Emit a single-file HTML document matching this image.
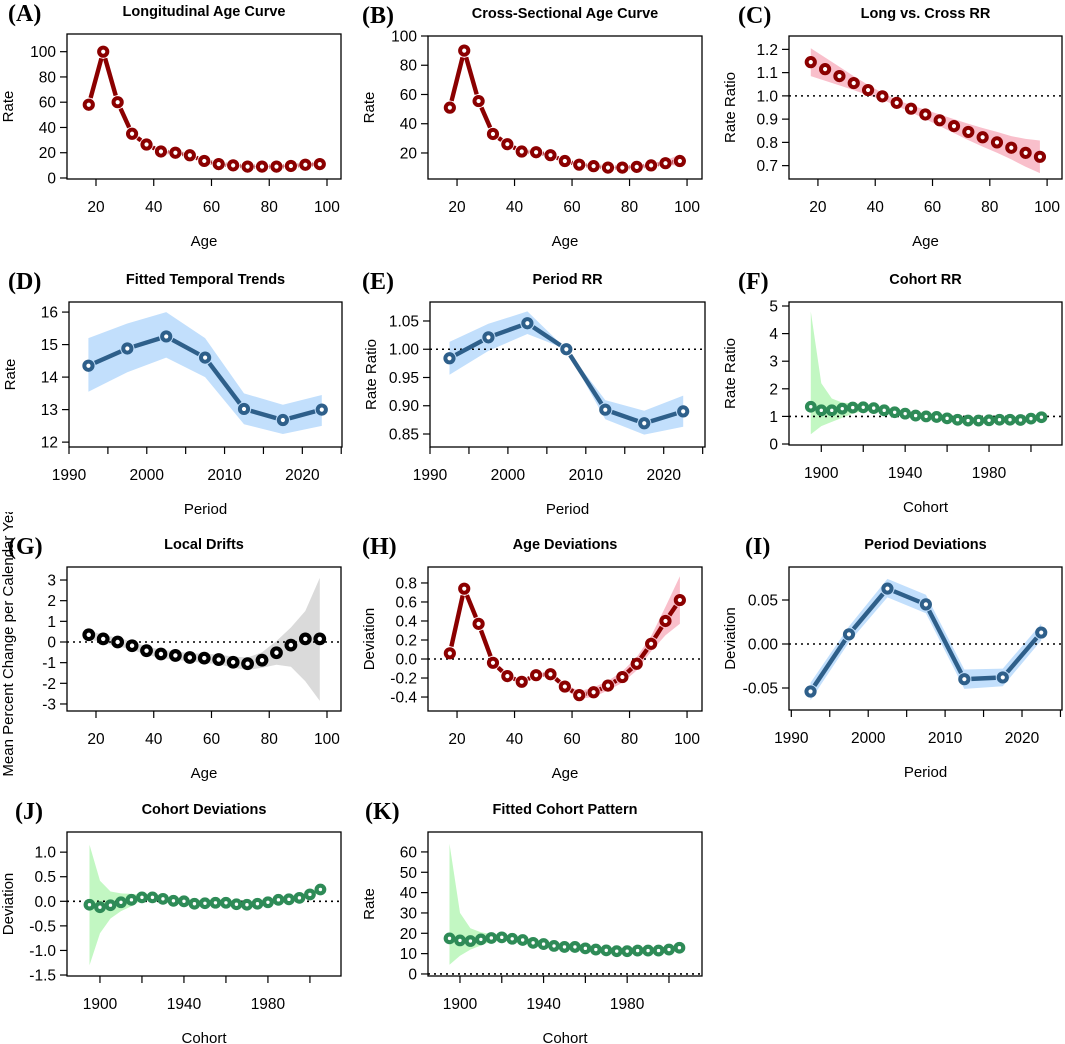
<!DOCTYPE html>
<html><head><meta charset="utf-8"><style>
html,body{margin:0;padding:0;background:#fff;}
svg{display:block;}
text{font-family:"Liberation Sans",sans-serif;fill:#000;}
</style></head><body>
<svg id="fig" width="1065" height="1044" viewBox="0 0 1065 1044" xmlns="http://www.w3.org/2000/svg">
<defs><clipPath id="gclip"><rect x="0" y="512" width="60" height="300"/></clipPath></defs>
</svg>
<script>
// ---- data ----
const ages = [17.5,22.5,27.5,32.5,37.5,42.5,47.5,52.5,57.5,62.5,67.5,72.5,77.5,82.5,87.5,92.5,97.5];
const periods = [1992.5,1997.5,2002.5,2007.5,2012.5,2017.5,2022.5];
const cohorts = [1895,1900,1905,1910,1915,1920,1925,1930,1935,1940,1945,1950,1955,1960,1965,1970,1975,1980,1985,1990,1995,2000,2005];

const longAge = [58,100,60,35,26.5,21,20,18,13.5,11,10,9,9,9,9.5,10.5,11];
const longAgeLo = [56,97,58,33.5,25.5,20.2,19.2,17.3,13,10.5,9.5,8.5,8.5,8.5,8.8,9.6,9.8];
const longAgeHi = [60,103,62,36.5,27.5,21.8,20.8,18.7,14,11.5,10.5,9.5,9.5,9.6,10.3,11.5,12.3];

const crossAge = [51,90,55.5,33,26,21,20.5,18.5,14.5,12,11,10,10,10.5,11.5,13,14.5];
const crossAgeLo = [49.5,87.5,54,32,25.2,20.3,19.8,17.8,14,11.5,10.5,9.5,9.5,9.8,10.6,11.6,11.5];
const crossAgeHi = [52.5,92.5,57,34,26.8,21.7,21.2,19.2,15,12.5,11.5,10.5,10.6,11.2,12.5,14.8,19];

const longCrossRR = [1.145,1.115,1.085,1.055,1.025,0.998,0.97,0.945,0.92,0.895,0.87,0.845,0.822,0.80,0.777,0.755,0.738];
const longCrossLo = [1.085,1.065,1.045,1.025,1.003,0.983,0.957,0.93,0.9,0.87,0.84,0.81,0.782,0.755,0.727,0.695,0.668];
const longCrossHi = [1.205,1.165,1.125,1.085,1.047,1.013,0.983,0.96,0.94,0.92,0.9,0.88,0.862,0.845,0.827,0.815,0.808];

const fittedTrend = [14.35,14.88,15.25,14.6,13.02,12.68,13.0];
const fittedTrendLo = [13.55,14.15,14.6,14.0,12.55,12.25,12.5];
const fittedTrendHi = [15.2,15.65,16.0,15.2,13.5,13.15,13.45];

const periodRR = [0.984,1.021,1.046,1.0,0.893,0.869,0.890];
const periodRRLo = [0.955,0.997,1.027,1.0,0.876,0.849,0.863];
const periodRRHi = [1.013,1.045,1.067,1.0,0.91,0.891,0.918];

const cohortRR = [1.35,1.22,1.22,1.28,1.32,1.33,1.3,1.22,1.15,1.1,1.03,1.0,0.98,0.93,0.88,0.85,0.85,0.86,0.88,0.88,0.87,0.92,0.97];
const cohortRRLo = [0.35,0.65,0.8,0.95,1.1,1.2,1.22,1.16,1.1,1.06,0.99,0.96,0.95,0.9,0.85,0.82,0.82,0.83,0.85,0.85,0.83,0.87,0.9];
const cohortRRHi = [4.8,2.2,1.65,1.5,1.47,1.45,1.38,1.28,1.2,1.14,1.07,1.04,1.01,0.96,0.91,0.88,0.88,0.89,0.91,0.91,0.91,0.97,1.04];

const localDrift = [0.35,0.15,0.0,-0.18,-0.42,-0.58,-0.65,-0.75,-0.78,-0.85,-0.98,-1.05,-0.88,-0.52,-0.15,0.15,0.15];
const localDriftLo = [0.15,-0.05,-0.2,-0.38,-0.62,-0.78,-0.85,-0.95,-1.0,-1.08,-1.25,-1.35,-1.25,-1.1,-1.2,-1.9,-2.85];
const localDriftHi = [0.55,0.35,0.2,0.02,-0.22,-0.38,-0.45,-0.55,-0.56,-0.62,-0.7,-0.75,-0.5,0.05,0.7,1.5,3.1];

const ageDev = [0.06,0.74,0.37,-0.04,-0.18,-0.24,-0.17,-0.16,-0.29,-0.38,-0.35,-0.28,-0.19,-0.05,0.16,0.40,0.62];
const ageDevLo = [0.04,0.72,0.35,-0.06,-0.2,-0.26,-0.19,-0.18,-0.32,-0.42,-0.4,-0.33,-0.25,-0.12,0.08,0.25,0.37];
const ageDevHi = [0.08,0.76,0.39,-0.02,-0.16,-0.22,-0.15,-0.14,-0.26,-0.34,-0.3,-0.23,-0.13,0.02,0.24,0.55,0.87];

const periodDev = [-0.054,0.011,0.063,0.045,-0.040,-0.038,0.013];
const periodDevLo = [-0.064,0.002,0.053,0.035,-0.051,-0.048,0.004];
const periodDevHi = [-0.044,0.02,0.074,0.056,-0.029,-0.028,0.023];

const cohortDev = [-0.07,-0.12,-0.08,-0.02,0.03,0.08,0.08,0.05,0.01,0.0,-0.05,-0.04,-0.03,-0.03,-0.06,-0.07,-0.05,-0.02,0.03,0.04,0.07,0.14,0.24];
const cohortDevLo = [-1.3,-0.65,-0.35,-0.2,-0.1,0.03,0.04,0.01,-0.03,-0.04,-0.09,-0.08,-0.07,-0.07,-0.1,-0.11,-0.09,-0.06,-0.01,0.0,0.03,0.09,0.18];
const cohortDevHi = [1.15,0.42,0.2,0.16,0.15,0.13,0.12,0.09,0.05,0.04,-0.01,0.0,0.01,0.01,-0.02,-0.03,-0.01,0.02,0.07,0.08,0.11,0.19,0.3];

const cohortFit = [17.5,16.5,16.2,17,17.7,18,17.3,16.7,15.3,14.7,13.8,13.3,13.3,12.6,12,11.6,11.2,11.2,11.5,11.5,11.5,12,12.9];
const cohortFitLo = [4.5,9,12,14,16,17,16.7,16.1,14.8,14.2,13.3,12.8,12.8,12.1,11.5,11.1,10.7,10.7,11,11,11,11.4,12.2];
const cohortFitHi = [64,30,22.5,20.5,19.5,19,17.9,17.3,15.8,15.2,14.3,13.8,13.8,13.1,12.5,12.1,11.7,11.7,12,12,12,12.6,13.6];

const ageTicks = [20,40,60,80,100];
const ageTickLabels = ["20","40","60","80","100"];
const periodTicks = [1990,1995,2000,2005,2010,2015,2020,2025];
const periodTickLabels = ["1990","","2000","","2010","","2020",""];
const cohortTicks = [1900,1920,1940,1960,1980,2000];
const cohortTickLabels = ["1900","","1940","","1980",""];

const RED="#8B0000", PINK="#F9BFCB", BLUE="#2E5F8A", LBLUE="#C2DFFC", GREEN="#2E8B57", LGREEN="#C2F7C2", GREY="#DADADA";
const svg = document.getElementById('fig');
const NS = "http://www.w3.org/2000/svg";
function mk(tag, attrs, parent){ const e=document.createElementNS(NS,tag); for(const k in attrs) e.setAttribute(k,attrs[k]); (parent||svg).appendChild(e); return e; }

function panel(c){
  const g = mk('g',{});
  
  
  const [x1,y1,x2,y2] = c.box;
  const sx = v => x1 + (v-c.xd[0])/(c.xd[1]-c.xd[0])*(x2-x1);
  const sy = v => y2 - (v-c.yd[0])/(c.yd[1]-c.yd[0])*(y2-y1);
  if(c.lo){
    let d = c.x.map((v,i)=>(i?'L':'M')+sx(v).toFixed(1)+','+sy(c.hi[i]).toFixed(1)).join('');
    for(let i=c.x.length-1;i>=0;i--) d += 'L'+sx(c.x[i]).toFixed(1)+','+sy(c.lo[i]).toFixed(1);
    const b = mk('path',{d:d+'Z',fill:c.band,stroke:'none'},g);
    
    
  }
  if(c.ref!==undefined){
    const r = mk('line',{x1:x1,x2:x2,y1:sy(c.ref),y2:sy(c.ref),stroke:'#000','stroke-width':1.6,'stroke-dasharray':'2,4'},g);
    
    
  }
  if(c.line){
    for(let i=0;i<c.x.length-1;i++){
      const ax=sx(c.x[i]), ay=sy(c.y[i]), bx=sx(c.x[i+1]), by=sy(c.y[i+1]);
      const L=Math.hypot(bx-ax,by-ay); if(L<14) continue;
      const ux=(bx-ax)/L, uy=(by-ay)/L, gap=7;
      const s = mk('line',{x1:ax+ux*gap,y1:ay+uy*gap,x2:bx-ux*gap,y2:by-uy*gap,stroke:c.col,'stroke-width':4.4},g);
      
      
    }
  }
  c.x.forEach((v,i)=>{
    const p = mk('circle',{cx:sx(v),cy:sy(c.y[i]),r:c.pr||4.1,fill:'#fff',stroke:c.col,'stroke-width':c.psw||4},g);
    
    
  });
  const bx = mk('rect',{x:x1,y:y1,width:x2-x1,height:y2-y1,fill:'none',stroke:'#000','stroke-width':1.3},g);
  
  
  const xa = mk('g',{},g);
  
  
  c.xt.forEach((t,i)=>{
    const X=sx(t);
    mk('line',{x1:X,x2:X,y1:y2,y2:y2+7,stroke:'#000','stroke-width':1.2},xa);
    if(c.xl[i]){ const tx=mk('text',{x:X,y:y2+33,'text-anchor':'middle','font-size':15.5},xa); tx.textContent=c.xl[i]; }
  });
  const ya = mk('g',{},g);
  
  
  c.yt.forEach(t=>{
    const Y=sy(t);
    mk('line',{x1:x1-7,x2:x1,y1:Y,y2:Y,stroke:'#000','stroke-width':1.2},ya);
    const tx=mk('text',{x:x1-11,y:Y+5.5,'text-anchor':'end','font-size':15.5},ya); tx.textContent=t.toFixed(c.yf||0);
  });
  const xt = mk('text',{x:(x1+x2)/2,y:y2+67,'text-anchor':'middle','font-size':15},g);
  xt.textContent=c.xlab;
  
  
  const yx = x1-54, ycy=(y1+y2)/2;
  const wrap = mk('g',{},g);
  if(c.clip) wrap.setAttribute('clip-path','url(#gclip)');
  const yt = mk('text',{x:yx,y:ycy,'text-anchor':'middle','font-size':15,transform:`rotate(-90 ${yx} ${ycy})`},wrap);
  yt.textContent=c.ylab;
  
  
  const ti = mk('text',{x:(x1+x2)/2,y:y1-18,'text-anchor':'middle','font-size':14.5,'font-weight':'bold'},g);
  ti.textContent=c.title;
  
  
  const le = mk('text',{x:c.lx,y:y1-13,'font-size':24,'font-weight':'bold',style:'font-family:"Liberation Serif",serif'},g);
  le.textContent=c.letter;
  
  
}

const C1=[67,341], C2=[428,702], C3=[789,1062];
const R1=[34,179], R2=[302,447], R3=[567,711], R4=[832,976];
const ageX1=[9.96,104.85], ageX2=[9.9,105.2];
const cohX=[1884.6,2014.8];
const lin=(a,b,s)=>{const r=[];for(let v=a;v<=b+1e-9;v+=s) r.push(+v.toFixed(4));return r;};

panel({name:'panel-a-longitudinal-age',letter:'(A)',lx:8,title:'Longitudinal Age Curve',box:[C1[0],R1[0],C1[1],R1[1]],xd:ageX1,yd:[-0.8,114],x:ages,y:longAge,lo:longAgeLo,hi:longAgeHi,band:PINK,col:RED,line:true,xt:ageTicks,xl:ageTickLabels,yt:lin(0,100,20),xlab:'Age',ylab:'Rate'});
panel({name:'panel-b-cross-sectional-age',letter:'(B)',lx:362,title:'Cross-Sectional Age Curve',box:[C2[0],36,C2[1],R1[1]],xd:ageX2,yd:[2.2,100],x:ages,y:crossAge,lo:crossAgeLo,hi:crossAgeHi,band:PINK,col:RED,line:true,xt:ageTicks,xl:ageTickLabels,yt:lin(20,100,20),xlab:'Age',ylab:'Rate'});
panel({name:'panel-c-long-vs-cross-rr',letter:'(C)',lx:738,title:'Long vs. Cross RR',box:[C3[0],36,C3[1],R1[1]],xd:ageX2,yd:[0.6425,1.2575],x:ages,y:longCrossRR,lo:longCrossLo,hi:longCrossHi,band:PINK,col:RED,ref:1,xt:ageTicks,xl:ageTickLabels,yt:lin(0.7,1.2,0.1),yf:1,xlab:'Age',ylab:'Rate Ratio'});

panel({name:'panel-d-fitted-temporal-trends',letter:'(D)',lx:8,title:'Fitted Temporal Trends',box:[69,R2[0],342,R2[1]],xd:[1990,2025.1],yd:[11.85,16.31],x:periods,y:fittedTrend,lo:fittedTrendLo,hi:fittedTrendHi,band:LBLUE,col:BLUE,line:true,xt:periodTicks,xl:periodTickLabels,yt:lin(12,16,1),xlab:'Period',ylab:'Rate'});
panel({name:'panel-e-period-rr',letter:'(E)',lx:362,title:'Period RR',box:[430,R2[0],705,R2[1]],xd:[1990,2025.3],yd:[0.827,1.0836],x:periods,y:periodRR,lo:periodRRLo,hi:periodRRHi,band:LBLUE,col:BLUE,line:true,ref:1,xt:periodTicks,xl:periodTickLabels,yt:lin(0.85,1.05,0.05),yf:2,xlab:'Period',ylab:'Rate Ratio'});
panel({name:'panel-f-cohort-rr',letter:'(F)',lx:738,title:'Cohort RR',box:[C3[0],R2[0],C3[1],445],xd:cohX,yd:[-0.036,5.145],x:cohorts,y:cohortRR,lo:cohortRRLo,hi:cohortRRHi,band:LGREEN,col:GREEN,ref:1,pr:3.8,psw:4.2,xt:cohortTicks,xl:cohortTickLabels,yt:lin(0,5,1),xlab:'Cohort',ylab:'Rate Ratio'});

panel({name:'panel-g-local-drifts',letter:'(G)',lx:8,title:'Local Drifts',box:[C1[0],R3[0],C1[1],R3[1]],xd:ageX1,yd:[-3.34,3.63],x:ages,y:localDrift,lo:localDriftLo,hi:localDriftHi,band:GREY,col:'#000',ref:0,pr:4.3,psw:4.2,xt:ageTicks,xl:ageTickLabels,yt:lin(-3,3,1),xlab:'Age',ylab:'Mean Percent Change per Calendar Year',clip:true});
panel({name:'panel-h-age-deviations',letter:'(H)',lx:362,title:'Age Deviations',box:[C2[0],R3[0],C2[1],R3[1]],xd:ageX2,yd:[-0.547,0.968],x:ages,y:ageDev,lo:ageDevLo,hi:ageDevHi,band:PINK,col:RED,line:true,ref:0,xt:ageTicks,xl:ageTickLabels,yt:lin(-0.4,0.8,0.2),yf:1,xlab:'Age',ylab:'Deviation'});
panel({name:'panel-i-period-deviations',letter:'(I)',lx:745,title:'Period Deviations',box:[C3[0],R3[0],C3[1],710],xd:[1989.7,2025.2],yd:[-0.075,0.0875],x:periods,y:periodDev,lo:periodDevLo,hi:periodDevHi,band:LBLUE,col:BLUE,line:true,ref:0,xt:periodTicks,xl:periodTickLabels,yt:[-0.05,0,0.05],yf:2,xlab:'Period',ylab:'Deviation'});

panel({name:'panel-j-cohort-deviations',letter:'(J)',lx:15,title:'Cohort Deviations',box:[C1[0],R4[0],C1[1],R4[1]],xd:[1884.3,2014.8],yd:[-1.52,1.41],x:cohorts,y:cohortDev,lo:cohortDevLo,hi:cohortDevHi,band:LGREEN,col:GREEN,ref:0,pr:3.8,psw:4.2,xt:cohortTicks,xl:cohortTickLabels,yt:lin(-1.5,1.0,0.5),yf:1,xlab:'Cohort',ylab:'Deviation'});
panel({name:'panel-k-fitted-cohort-pattern',letter:'(K)',lx:365,title:'Fitted Cohort Pattern',box:[C2[0],R4[0],C2[1],R4[1]],xd:[1884.7,2015.8],yd:[-1,69.8],x:cohorts,y:cohortFit,lo:cohortFitLo,hi:cohortFitHi,band:LGREEN,col:GREEN,ref:0,pr:3.8,psw:4.2,xt:cohortTicks,xl:cohortTickLabels,yt:lin(0,60,10),xlab:'Cohort',ylab:'Rate'});
</script>
</body></html>
